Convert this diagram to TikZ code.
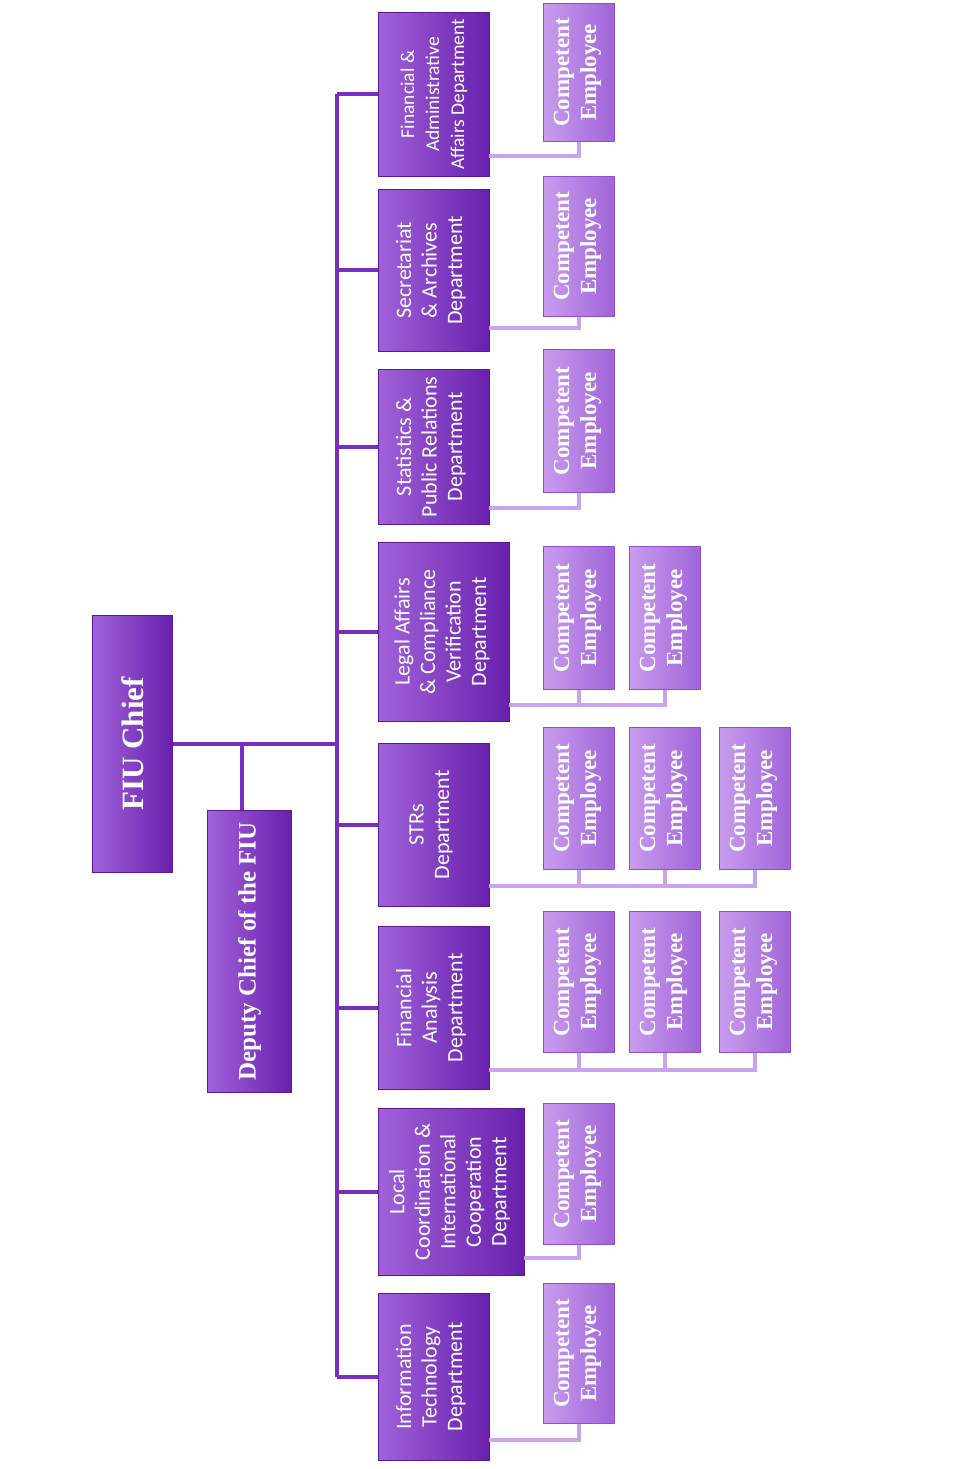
\documentclass[tikz,border=0pt]{standalone}
\usepackage{fontspec}
\setmainfont{Liberation Serif}
\newfontfamily\deptfont{Carlito}
\definecolor{deptL}{HTML}{A062DA}
\definecolor{deptR}{HTML}{6820AC}
\definecolor{deptB}{HTML}{5A1A96}
\definecolor{empL}{HTML}{C99CEE}
\definecolor{empR}{HTML}{A064D9}
\definecolor{empB}{HTML}{9050CC}
\definecolor{lineD}{HTML}{7A2EBE}
\definecolor{lineL}{HTML}{C9A4EC}
\begin{document}
\begin{tikzpicture}[x=1pt,y=-1pt,
 box/.style={rectangle, inner sep=0pt, anchor=north west, line width=0.8pt},
 dept/.style={box, left color=deptL, right color=deptR, draw=deptB},
 emp/.style={box, left color=empL, right color=empR, draw=empB, minimum width=71pt},
 depttxt/.style={rotate=90, align=center, text=white, inner sep=0pt, font=\deptfont\fontsize{22}{25.5}\selectfont},
 emptxt/.style={rotate=90, align=center, text=white, inner sep=0pt, font=\bfseries\fontsize{23}{27}\selectfont},
 trunk/.style={line width=4pt, draw=lineD},
 eline/.style={line width=4.5pt, draw=lineL},
]
\useasboundingbox[fill=white] (0,0) rectangle (974,1469);

% top level
\node[dept, minimum width=80pt, minimum height=257pt] (chief) at (92,615) {};
\node[rotate=90, text=white, font=\bfseries\fontsize{31}{36}\selectfont] (chief-t) at (chief) {FIU Chief};
\node[dept, minimum width=84pt, minimum height=282pt] (dep) at (207,810) {};
\node[rotate=90, text=white, font=\bfseries\fontsize{25}{29}\selectfont] (dep-t) at (dep) {Deputy Chief of the FIU};

% departments
\node[dept, minimum width=111pt, minimum height=164pt] (d1) at (378,12) {};
\node[depttxt, font=\deptfont\fontsize{19.5}{25}\selectfont] (d1-t) at (d1) {Financial \&\\Administrative\\Affairs Department};
\node[dept, minimum width=111pt, minimum height=162pt] (d2) at (378,189) {};
\node[depttxt] (d2-t) at ([xshift=-3pt]d2.center) {Secretariat\\\& Archives\\Department};
\node[dept, minimum width=111pt, minimum height=155pt] (d3) at (378,369) {};
\node[depttxt] (d3-t) at ([xshift=-3pt]d3.center) {Statistics \&\\Public Relations\\Department};
\node[dept, minimum width=131pt, minimum height=179pt] (d4) at (378,542) {};
\node[depttxt] (d4-t) at ([xshift=-2pt]d4.center) {Legal Affairs\\\& Compliance\\Verification\\Department};
\node[dept, minimum width=111pt, minimum height=163pt] (d5) at (378,743) {};
\node[depttxt] (d5-t) at ([xshift=-3pt]d5.center) {STRs\\Department};
\node[dept, minimum width=111pt, minimum height=163pt] (d6) at (378,926) {};
\node[depttxt] (d6-t) at ([xshift=-3pt]d6.center) {Financial\\Analysis\\Department};
\node[dept, minimum width=146pt, minimum height=167pt] (d7) at (378,1108) {};
\node[depttxt] (d7-t) at ([xshift=-2pt]d7.center) {Local\\Coordination \&\\International\\Cooperation\\Department};
\node[dept, minimum width=111pt, minimum height=167pt] (d8) at (378,1293) {};
\node[depttxt] (d8-t) at ([xshift=-3pt]d8.center) {Information\\Technology\\Department};

% trunk connectors
\coordinate (ttop) at (337,94);
\coordinate (tbot) at (337,1376.5);
\draw[trunk] (ttop) -- (tbot);
\draw[trunk] (chief.east) -- (chief.east -| ttop);
\draw[trunk] ([xshift=-7pt]dep.north) -- ([xshift=-7pt]dep.north |- chief.east);
\foreach \d in {d1,d2,d3,d4,d5,d6,d7,d8}
  \draw[trunk] (\d.west) -- (\d.west -| ttop);

% employees
\node[emp, minimum height=138pt] (e11) at (543,3) {};
\node[emp, minimum height=140pt] (e21) at (543,176) {};
\node[emp, minimum height=143pt] (e31) at (543,349) {};
\node[emp, minimum height=143pt] (e41) at (543,546) {};
\node[emp, minimum height=143pt] (e42) at (629,546) {};
\node[emp, minimum height=142pt] (e51) at (543,727) {};
\node[emp, minimum height=142pt] (e52) at (629,727) {};
\node[emp, minimum height=142pt] (e53) at (719,727) {};
\node[emp, minimum height=141pt] (e61) at (543,911) {};
\node[emp, minimum height=141pt] (e62) at (629,911) {};
\node[emp, minimum height=141pt] (e63) at (719,911) {};
\node[emp, minimum height=141pt] (e71) at (543,1103) {};
\node[emp, minimum height=140pt] (e81) at (543,1283) {};
\foreach \e in {e11,e21,e31,e41,e42,e51,e52,e53,e61,e62,e63,e71,e81}
  \node[emptxt] (\e-t) at ([xshift=-1.5pt]\e.center) {Competent\\Employee};

% employee connectors
\coordinate (j1) at (489,156);
\coordinate (j2) at (489,328);
\coordinate (j3) at (489,508);
\coordinate (j4) at (509,705);
\coordinate (j5) at (489,886);
\coordinate (j6) at (489,1070);
\coordinate (j7) at (524,1258);
\coordinate (j8) at (489,1440);
\draw[eline] (j1) -| (e11.south);
\draw[eline] (j2) -| (e21.south);
\draw[eline] (j3) -| (e31.south);
\draw[eline] (j4) -| (e42.south);
\draw[eline] (e41.south) -- (e41.south |- j4);
\draw[eline] (j5) -| (e53.south);
\draw[eline] (e51.south) -- (e51.south |- j5);
\draw[eline] (e52.south) -- (e52.south |- j5);
\draw[eline] (j6) -| (e63.south);
\draw[eline] (e61.south) -- (e61.south |- j6);
\draw[eline] (e62.south) -- (e62.south |- j6);
\draw[eline] (j7) -| (e71.south);
\draw[eline] (j8) -| (e81.south);
\end{tikzpicture}
\end{document}
